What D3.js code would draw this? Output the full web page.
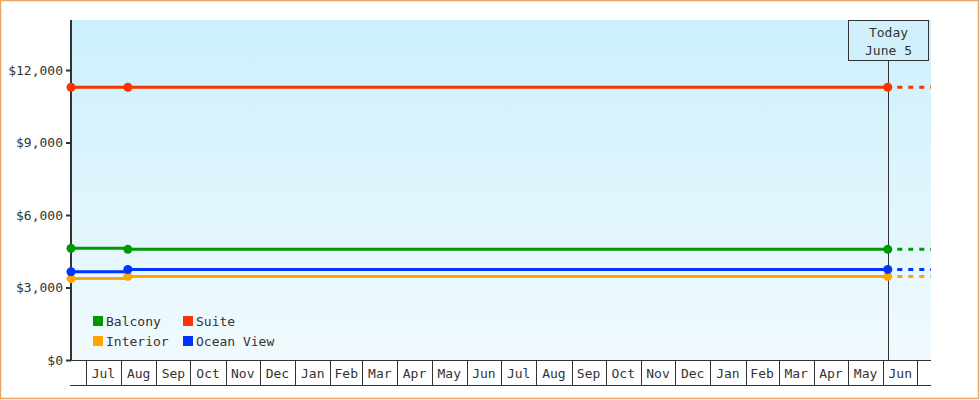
<!DOCTYPE html>
<html>
<head>
<meta charset="utf-8">
<script src="https://cdn.jsdelivr.net/npm/d3@7"></script>
<style>
  body { margin: 0; background: #fff; }
  text { font-family: "DejaVu Sans Mono", monospace; font-size: 13px; fill: #333; }
</style>
</head>
<body>
<svg id="chart" width="980" height="400"></svg>
<script>
// price history per cabin type
const dates = ["2022-06-18", "2022-08-07", "2024-06-05"];
const balcony = [4620, 4580, 4580];
const suite = [11285, 11285, 11285];
const interior = [3370, 3460, 3460];
const oceanView = [3650, 3750, 3750];

const seriesNames = ["Balcony", "Suite", "Interior", "Ocean View"];
const seriesColors = ["#009900", "#ff3300", "#ffa500", "#0033ff"];
const yTicks = [0, 3000, 6000, 9000, 12000];
const domainStart = "2022-06-18";
const domainEnd = "2024-07-13";
const todayDate = "2024-06-05";
const todayLabel = ["Today", "June 5"];

const parse = d3.timeParse("%Y-%m-%d");
const seriesValues = [balcony, suite, interior, oceanView];
const series = seriesNames.map((name, i) => ({
  name,
  color: seriesColors[i],
  points: dates.map((d, j) => ({ date: parse(d), value: seriesValues[i][j] }))
}));

const svg = d3.select("#chart");
const plotL = 71, plotR = 931, plotT = 20, plotB = 360, axisB = 385;

const x = d3.scaleTime().domain([parse(domainStart), parse(domainEnd)]).range([plotL, plotR]);
const y = d3.scaleLinear().domain([0, 14070]).range([plotB, plotT]);

// outer frame
svg.append("rect")
  .attr("x", 0.5).attr("y", 0.5).attr("width", 978).attr("height", 398)
  .attr("fill", "#fff").attr("stroke", "#eaa662").attr("stroke-width", 1.5);

// background gradient
const grad = svg.append("defs").append("linearGradient")
  .attr("id", "bg").attr("x1", 0).attr("y1", 0).attr("x2", 0).attr("y2", 1);
grad.append("stop").attr("offset", "0%").attr("stop-color", "#ccf0fc");
grad.append("stop").attr("offset", "100%").attr("stop-color", "#f1fafe");

svg.append("rect")
  .attr("x", plotL).attr("y", plotT).attr("width", plotR - plotL).attr("height", plotB - plotT)
  .attr("fill", "url(#bg)");

// month bands under the plot
const months = d3.timeMonth.range(d3.timeMonth.ceil(x.domain()[0]), x.domain()[1]);
const xg = svg.append("g");
xg.selectAll("line.sep")
  .data(months)
  .join("line")
  .attr("class", "sep")
  .attr("x1", d => Math.round(x(d)) + 0.5).attr("x2", d => Math.round(x(d)) + 0.5)
  .attr("y1", plotB).attr("y2", axisB)
  .attr("stroke", "#333").attr("stroke-width", 1);
xg.selectAll("text")
  .data(months.filter(d => d3.timeMonth.offset(d, 1) <= x.domain()[1]))
  .join("text")
  .attr("x", d => (x(d) + x(d3.timeMonth.offset(d, 1))) / 2)
  .attr("y", 378)
  .attr("text-anchor", "middle")
  .text(d3.timeFormat("%b"));
xg.append("line")
  .attr("x1", plotL - 1).attr("x2", plotR).attr("y1", plotB + 0.5).attr("y2", plotB + 0.5)
  .attr("stroke", "#333");
xg.append("line")
  .attr("x1", plotL - 1).attr("x2", plotR).attr("y1", axisB + 0.5).attr("y2", axisB + 0.5)
  .attr("stroke", "#333");

// y axis
const yAxis = svg.append("g")
  .attr("transform", `translate(${plotL},0)`)
  .call(d3.axisLeft(y).tickValues(yTicks).tickSize(5).tickFormat(d => "$" + d3.format(",")(d)));
yAxis.select(".domain").remove();
yAxis.selectAll(".tick line").attr("stroke", "#333").attr("stroke-width", 2);
yAxis.selectAll(".tick text").style("font-family", "DejaVu Sans Mono, monospace").style("font-size", "13px").attr("fill", "#333");
svg.append("line")
  .attr("x1", plotL).attr("x2", plotL).attr("y1", plotT).attr("y2", plotB + 1)
  .attr("stroke", "#333").attr("stroke-width", 2);

// today marker
const tx = x(parse(todayDate));
svg.append("line")
  .attr("x1", Math.round(tx) + 0.5).attr("x2", Math.round(tx) + 0.5)
  .attr("y1", plotT + 40).attr("y2", plotB)
  .attr("stroke", "#333").attr("stroke-width", 1);
svg.append("rect")
  .attr("x", Math.round(tx) - 39.5).attr("y", plotT + 0.5).attr("width", 80).attr("height", 40)
  .attr("fill", "#d0f1fc").attr("stroke", "#333");
svg.selectAll("text.today")
  .data(todayLabel)
  .join("text")
  .attr("class", "today")
  .attr("x", Math.round(tx) + 0.5)
  .attr("y", (d, i) => 37 + i * 18)
  .attr("text-anchor", "middle")
  .text(d => d);

// lines
const line = d3.line().x(d => x(d.date)).y(d => y(d.value)).curve(d3.curveStepAfter);
const sg = svg.selectAll("g.series")
  .data(series)
  .join("g")
  .attr("class", "series");

sg.append("path")
  .attr("d", d => line(d.points))
  .attr("fill", "none")
  .attr("stroke", d => d.color)
  .attr("stroke-width", 3);

// projection past today
sg.append("path")
  .attr("d", d => {
    const last = d.points[d.points.length - 1];
    return line([last, { date: x.domain()[1], value: last.value }]);
  })
  .attr("fill", "none")
  .attr("stroke", d => d.color)
  .attr("stroke-width", 3)
  .attr("stroke-dasharray", "5,6")
  .attr("stroke-dashoffset", 1.5);

sg.selectAll("circle")
  .data(d => d.points.map(p => ({ ...p, color: d.color })))
  .join("circle")
  .attr("cx", d => x(d.date))
  .attr("cy", d => y(d.value))
  .attr("r", 4.5)
  .attr("fill", d => d.color);

// legend
const legend = svg.append("g").attr("transform", "translate(93,316)");
const items = legend.selectAll("g")
  .data(series)
  .join("g")
  .attr("transform", (d, i) => `translate(${(i % 2) * 90},${Math.floor(i / 2) * 20})`);
items.append("rect")
  .attr("width", 10).attr("height", 10)
  .attr("fill", d => d.color);
items.append("text")
  .attr("x", 13).attr("y", 9.5)
  .text(d => d.name);
</script>
</body>
</html>
